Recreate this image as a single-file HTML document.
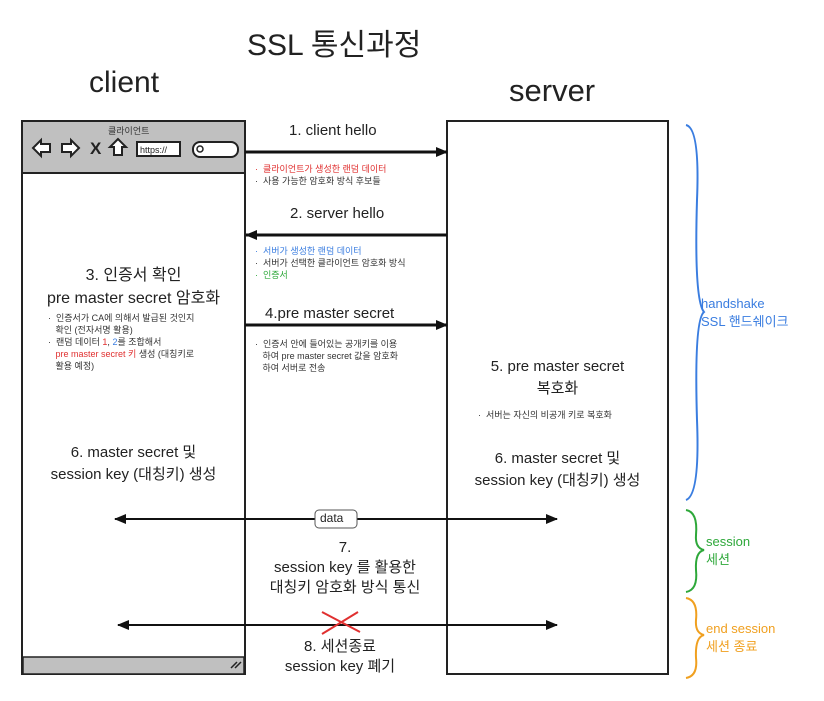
<!DOCTYPE html>
<html><head><meta charset="utf-8"><style>
body{margin:0;width:824px;height:701px;background:#fff;position:relative;overflow:hidden;font-family:"Liberation Sans","Noto Sans CJK KR",sans-serif;color:#222}
.t{position:absolute;white-space:nowrap}
.c{text-align:center}
.s{font-size:9px;line-height:12px;color:#333}
</style></head><body>
<div class="t" style="left:247px;top:20px;font-size:30px">SSL 통신과정</div>
<div class="t" style="left:89px;top:66px;font-size:30px">client</div>
<div class="t" style="left:509px;top:73px;font-size:31px">server</div>

<svg width="824" height="701" style="position:absolute;left:0;top:0">
<defs><marker id="a" markerUnits="userSpaceOnUse" markerWidth="12" markerHeight="12" refX="11" refY="6" orient="auto-start-reverse"><path d="M0,1 L12,6 L0,11z" fill="#111"/></marker></defs>
<rect x="22" y="121" width="223" height="553" fill="#fff" stroke="#222" stroke-width="2"/>
<rect x="23" y="122" width="221" height="50" fill="#c0c0c0"/>
<line x1="22" y1="173" x2="245" y2="173" stroke="#222" stroke-width="2"/>
<rect x="23" y="657" width="221" height="17" fill="#c0c0c0" stroke="#222" stroke-width="1.5"/>
<path d="M231,668 l6,-6 M235,668 l6,-6" stroke="#222" stroke-width="1.5"/>
<path d="M33,148 l8,-8 v4 h9 v8 h-9 v4z" fill="#fff" stroke="#222" stroke-width="2"/>
<path d="M79,148 l-8,-8 v4 h-9 v8 h9 v4z" fill="#fff" stroke="#222" stroke-width="2"/>
<text x="90" y="154" font-size="17" font-weight="bold" fill="#222" font-family="Liberation Sans">X</text>
<path d="M118,139 l-8,8 h4 v8 h8 v-8 h4z" fill="#fff" stroke="#222" stroke-width="2"/>
<rect x="137" y="142" width="43" height="14" fill="#fff" stroke="#222" stroke-width="2"/>
<text x="140" y="153" font-size="9" fill="#222">https://</text>
<rect x="193" y="142" width="45" height="15" rx="7" fill="#fff" stroke="#222" stroke-width="2"/>
<circle cx="200" cy="149" r="3" fill="none" stroke="#222" stroke-width="1.5"/>
<rect x="447" y="121" width="221" height="553" fill="#fff" stroke="#222" stroke-width="2"/>
<line x1="245" y1="152" x2="447" y2="152" stroke="#111" stroke-width="3" marker-end="url(#a)"/>
<line x1="447" y1="235" x2="246" y2="235" stroke="#111" stroke-width="3" marker-end="url(#a)"/>
<line x1="245" y1="325" x2="447" y2="325" stroke="#111" stroke-width="3" marker-end="url(#a)"/>
<line x1="115" y1="519" x2="557" y2="519" stroke="#111" stroke-width="2" marker-start="url(#a)" marker-end="url(#a)"/>
<rect x="315" y="510" width="42" height="18" rx="4" fill="#fff" stroke="#555"/>
<line x1="118" y1="625" x2="557" y2="625" stroke="#111" stroke-width="2" marker-start="url(#a)" marker-end="url(#a)"/>
<path d="M322,612 L360,632 M358,612 L322,634" stroke="#e03030" stroke-width="2"/>
<path d="M686,125 Q700,128 697,200 Q694,300 704,312 Q694,320 697,420 Q700,495 686,500" fill="none" stroke="#3a7de0" stroke-width="2"/>
<path d="M686,510 Q698,512 696,535 Q695,548 704,550 Q695,552 696,570 Q698,590 686,592" fill="none" stroke="#2ea83a" stroke-width="2"/>
<path d="M686,598 Q698,600 696,620 Q695,633 704,635 Q695,637 696,658 Q698,676 686,678" fill="none" stroke="#f0a020" stroke-width="2"/>
</svg>

<div class="t" style="left:108px;top:124px;font-size:9px;color:#333">클라이언트</div>

<div class="t" style="left:289px;top:122px;font-size:15px">1. client hello</div>
<div class="t s" style="left:255px;top:163px"><span style="color:#e03030">·&nbsp; 클라이언트가 생성한 랜덤 데이터</span><br>·&nbsp; 사용 가능한 암호화 방식 후보들</div>
<div class="t" style="left:290px;top:205px;font-size:15px">2. server hello</div>
<div class="t s" style="left:255px;top:245px"><span style="color:#3a7de0">·&nbsp; 서버가 생성한 랜덤 데이터</span><br>·&nbsp; 서버가 선택한 클라이언트 암호화 방식<br><span style="color:#2ea83a">·&nbsp; 인증서</span></div>
<div class="t" style="left:265px;top:305px;font-size:15px">4.pre master secret</div>
<div class="t s" style="left:255px;top:338px">·&nbsp; 인증서 안에 들어있는 공개키를 이용<br>&nbsp;&nbsp;&nbsp;하여 pre master secret 값을 암호화<br>&nbsp;&nbsp;&nbsp;하여 서버로 전송</div>

<div class="t c" style="left:22px;width:223px;top:264px;font-size:16px;line-height:23px">3. 인증서 확인<br>pre master secret 암호화</div>
<div class="t s" style="left:48px;top:312px">·&nbsp; 인증서가 CA에 의해서 발급된 것인지<br>&nbsp;&nbsp;&nbsp;확인 (전자서명 활용)<br>·&nbsp; 랜덤 데이터 <span style="color:#e03030">1</span>, <span style="color:#3a7de0">2</span>를 조합해서<br>&nbsp;&nbsp;&nbsp;<span style="color:#e03030">pre master secret 키</span> 생성 (대칭키로<br>&nbsp;&nbsp;&nbsp;활용 예정)</div>
<div class="t c" style="left:22px;width:223px;top:442px;font-size:15px;line-height:22px">6. master secret 및<br>session key (대칭키) 생성</div>

<div class="t c" style="left:447px;width:221px;top:356px;font-size:15px;line-height:22px">5. pre master secret<br>복호화</div>
<div class="t s" style="left:478px;top:409px">·&nbsp; 서버는 자신의 비공개 키로 복호화</div>
<div class="t c" style="left:447px;width:221px;top:448px;font-size:15px;line-height:22px">6. master secret 및<br>session key (대칭키) 생성</div>

<div class="t" style="left:320px;top:511px;font-size:12px">data</div>
<div class="t c" style="left:220px;width:250px;top:538px;font-size:15px;line-height:20px">7.<br>session key 를 활용한<br>대칭키 암호화 방식 통신</div>
<div class="t c" style="left:240px;width:200px;top:637px;font-size:15px;line-height:20px">8. 세션종료<br>session key 폐기</div>

<div class="t" style="left:701px;top:295px;font-size:13px;line-height:18px;color:#3a7de0">handshake<br>SSL 핸드쉐이크</div>
<div class="t" style="left:706px;top:533px;font-size:13px;line-height:18px;color:#2ea83a">session<br>세션</div>
<div class="t" style="left:706px;top:620px;font-size:13px;line-height:18px;color:#f0a020">end session<br>세션 종료</div>
</body></html>
